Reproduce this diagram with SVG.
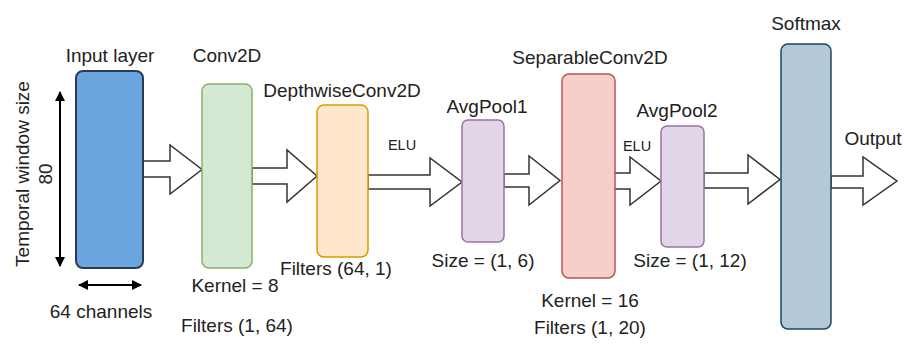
<svg xmlns="http://www.w3.org/2000/svg" width="904" height="345" viewBox="0 0 904 345">
<defs>
<style>
text{font-family:"Liberation Sans",Arial,sans-serif;fill:#222;}
.lbl{font-size:19px;text-anchor:middle;}
.small{font-size:14.5px;text-anchor:middle;}
.blk{fill:#fff;stroke:#333;stroke-width:1.5;stroke-linejoin:miter;}
.dim{stroke:#000;stroke-width:2;fill:none;}
</style>
<marker id="ah" viewBox="0 0 10 10" refX="9" refY="5" markerWidth="5" markerHeight="5" orient="auto-start-reverse" markerUnits="strokeWidth">
<path d="M0,0 L10,5 L0,10 z" fill="#000"/>
</marker>
</defs>
<rect width="904" height="345" fill="#fff"/>

<g id="connectors">
<polygon class="blk" points="143,161 170,161 170,145 202,169.5 170,194 170,177 143,177"/>
<polygon class="blk" points="252,168 287,168 287,150 317,176 287,202 287,184 252,184"/>
<polygon class="blk" points="368,175 430,175 430,158 462,182 430,206 430,189 368,189"/>
<polygon class="blk" points="504,174 529,174 529,156 560,180.5 529,205 529,187 504,187"/>
<polygon class="blk" points="614,173 630,173 630,157 661,181 630,205 630,189 614,189"/>
<polygon class="blk" points="704,173 748,173 748,155 780,179.5 748,204 748,188 704,188"/>
<polygon class="blk" points="831,176 863,176 863,157 897,181 863,205 863,188 831,188"/>
<text class="small" x="402" y="150">ELU</text>
<text class="small" x="637" y="151">ELU</text>
<line class="dim" x1="60" y1="92" x2="60" y2="266" marker-start="url(#ah)" marker-end="url(#ah)"/>
<line class="dim" x1="79" y1="285" x2="141" y2="285" marker-start="url(#ah)" marker-end="url(#ah)"/>
</g>

<g id="input">
<rect x="76" y="71" width="67" height="197" rx="7" fill="#6aa5e0" stroke="#2a3d50" stroke-width="2"/>
<text class="lbl" x="110" y="62">Input layer</text>
<text class="lbl" transform="translate(29,174) rotate(-90)">Temporal window size</text>
<text class="lbl" transform="translate(52,174) rotate(-90)">80</text>
<text class="lbl" x="101" y="318">64 channels</text>
</g>

<g id="conv2d">
<rect x="202" y="84" width="50" height="184" rx="7" fill="#d5e8d4" stroke="#82b366" stroke-width="1.5"/>
<text class="lbl" x="227" y="62">Conv2D</text>
<text class="lbl" x="235" y="292">Kernel = 8</text>
<text class="lbl" x="237" y="332">Filters (1, 64)</text>
</g>

<g id="depthwise">
<rect x="317" y="105" width="51" height="152" rx="7" fill="#ffe6cc" stroke="#d79b00" stroke-width="1.5"/>
<text class="lbl" x="342" y="97">DepthwiseConv2D</text>
<text class="lbl" x="336" y="275">Filters (64, 1)</text>
</g>

<g id="avgpool1">
<rect x="462" y="120" width="42" height="122" rx="6" fill="#e1d5e7" stroke="#9673a6" stroke-width="1.5"/>
<text class="lbl" x="487" y="113">AvgPool1</text>
<text class="lbl" x="483" y="267">Size = (1, 6)</text>
</g>

<g id="separable">
<rect x="562" y="74" width="53" height="204" rx="7" fill="#f8cecc" stroke="#b85450" stroke-width="1.5"/>
<text class="lbl" x="590" y="64">SeparableConv2D</text>
<text class="lbl" x="590" y="307">Kernel = 16</text>
<text class="lbl" x="590" y="334">Filters (1, 20)</text>
</g>

<g id="avgpool2">
<rect x="661" y="126" width="43" height="121" rx="6" fill="#e1d5e7" stroke="#9673a6" stroke-width="1.5"/>
<text class="lbl" x="677" y="117">AvgPool2</text>
<text class="lbl" x="690" y="267">Size = (1, 12)</text>
</g>

<g id="softmax">
<rect x="781" y="44" width="50" height="285" rx="7" fill="#b3c9d8" stroke="#23445d" stroke-width="1.5"/>
<text class="lbl" x="806" y="30">Softmax</text>
<text class="lbl" x="873" y="145">Output</text>
</g>
</svg>
